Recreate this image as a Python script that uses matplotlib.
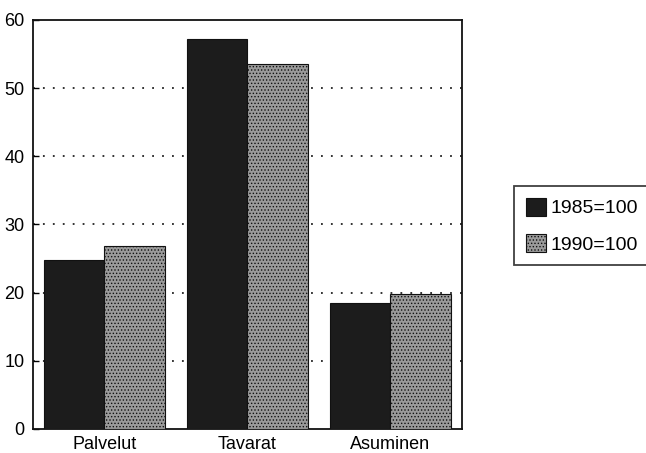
import matplotlib
matplotlib.use("Agg")
import matplotlib.pyplot as plt
import numpy as np

categories = ["Palvelut", "Tavarat", "Asuminen"]
series_names = ["1985=100", "1990=100"]
values_1985 = [24.8, 57.2, 18.5]
values_1990 = [26.9, 53.5, 19.8]
yticks = [0, 10, 20, 30, 40, 50, 60]

plt.rcParams['font.family'] = ['Liberation Sans', 'DejaVu Sans']
plt.rcParams['hatch.linewidth'] = 0.6
plt.rcParams['hatch.color'] = '#3a3a3a'

fig = plt.figure(figsize=(6.46, 4.53), dpi=100)
ax = fig.add_axes([0.051, 0.053, 0.664, 0.903])

x = np.arange(len(categories))
w = 0.425
b1 = ax.bar(x - w/2, values_1985, w, color='#1c1c1c', edgecolor='#111111', linewidth=0.8, zorder=3, label=series_names[0])
b2 = ax.bar(x + w/2, values_1990, w, color='#9a9a9a', edgecolor='#111111', linewidth=0.8, hatch='.....', zorder=3, label=series_names[1])

ax.set_xlim(-0.5, 2.5)
ax.set_ylim(0, 60)
ax.set_yticks(yticks)
ax.set_yticklabels([str(t) for t in yticks], fontsize=13)
ax.set_xticks(x)
ax.set_xticklabels(categories, fontsize=13)
ax.tick_params(axis='x', length=0, pad=5)
ax.tick_params(axis='y', length=4, direction='in', pad=6, width=1)
for t in [10, 20, 30, 40, 50]:
    ax.axhline(t, color='#222222', linestyle=(0, (1, 4.5)), linewidth=1.3, zorder=1)
for s in ax.spines.values():
    s.set_linewidth(1.3)
    s.set_color('#111111')

leg = fig.legend(handles=[b1, b2], labels=series_names, loc='upper left',
                 bbox_to_anchor=(514/646, 1 - 186/453), fontsize=14, frameon=True,
                 fancybox=False, edgecolor='#111111', handlelength=1.05,
                 handleheight=1.05, handletextpad=0.25, borderpad=0.6, labelspacing=0.85,
                 borderaxespad=0)
leg.get_frame().set_linewidth(1.3)

fig.savefig("out.png", dpi=100)
